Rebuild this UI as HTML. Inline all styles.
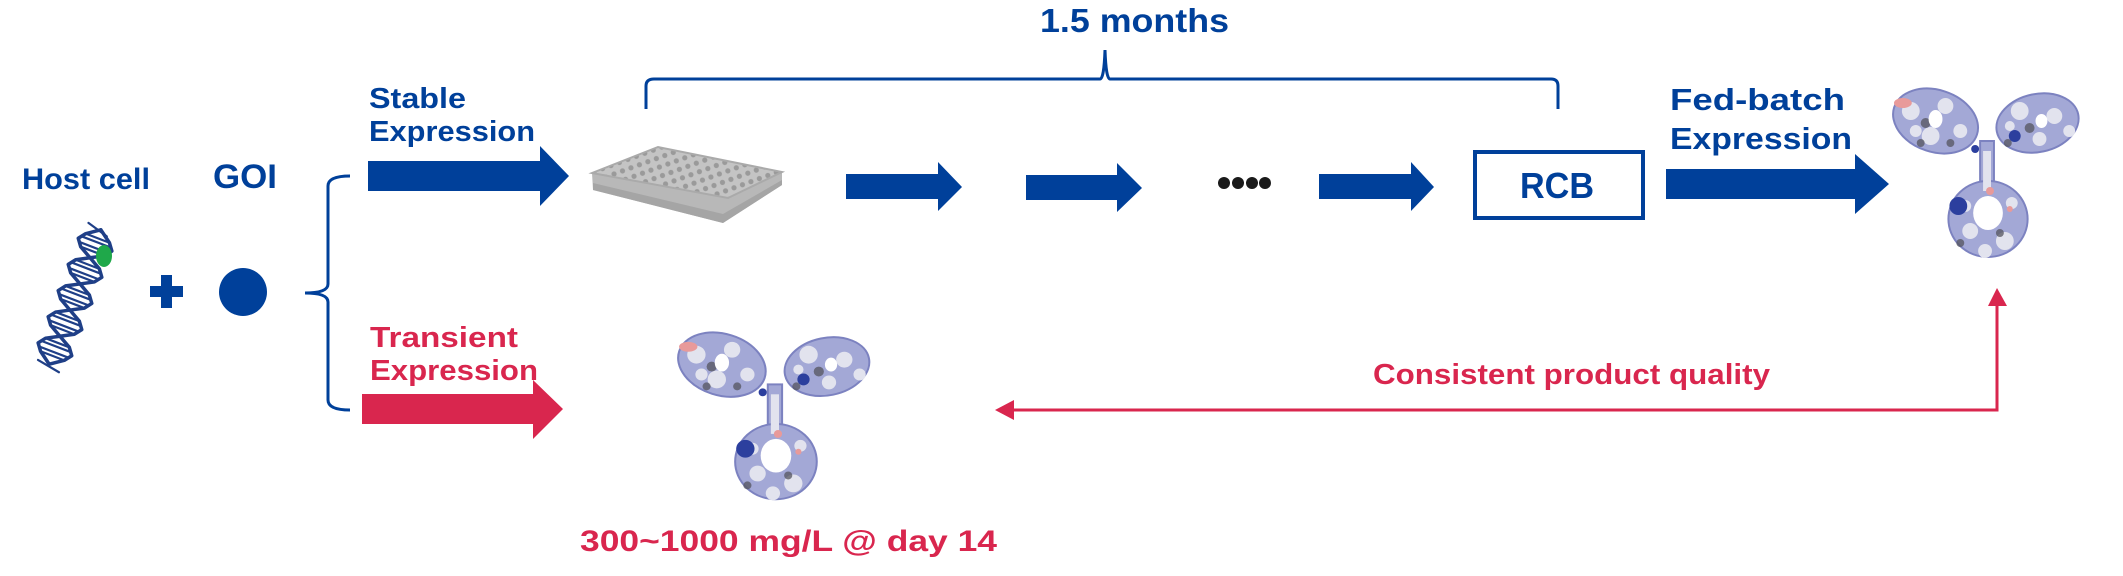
<!DOCTYPE html>
<html><head><meta charset="utf-8"><style>
html,body{margin:0;padding:0;background:#fff;}
svg{display:block;}
text{font-family:"Liberation Sans",sans-serif;font-weight:bold;}
</style></head><body>
<svg width="2123" height="576" viewBox="0 0 2123 576" xmlns="http://www.w3.org/2000/svg">
<defs>
<pattern id="wells" width="9" height="9" patternUnits="userSpaceOnUse" patternTransform="rotate(-20)">
<rect width="9" height="9" fill="#c4c4c4"/><circle cx="4.5" cy="4.5" r="2.6" fill="#9a9a9a"/>
</pattern>
<g id="ab">
 <g fill="#a3a8d6" stroke="#7c82c0" stroke-width="2">
  <ellipse cx="45" cy="40" rx="44" ry="31" transform="rotate(18 45 40)"/>
  <ellipse cx="148" cy="42" rx="42" ry="29" transform="rotate(-12 148 42)"/>
  <rect x="90" y="60" width="14" height="55"/>
  <ellipse cx="98" cy="138" rx="40" ry="38"/>
 </g>
 <g fill="#e2e3ee">
  <circle cx="20" cy="30" r="9"/><circle cx="55" cy="25" r="8"/><circle cx="40" cy="55" r="9"/><circle cx="70" cy="50" r="7"/><circle cx="25" cy="50" r="6"/>
  <circle cx="130" cy="30" r="9"/><circle cx="165" cy="35" r="8"/><circle cx="150" cy="58" r="7"/><circle cx="180" cy="50" r="6"/><circle cx="120" cy="45" r="5"/>
  <circle cx="80" cy="150" r="8"/><circle cx="115" cy="160" r="9"/><circle cx="95" cy="170" r="7"/><circle cx="75" cy="125" r="6"/><circle cx="122" cy="122" r="6"/>
  <rect x="93" y="70" width="8" height="40"/>
 </g>
 <g fill="#55555f" opacity="0.75">
  <circle cx="35" cy="42" r="5"/><circle cx="60" cy="62" r="4"/><circle cx="140" cy="47" r="5"/><circle cx="118" cy="62" r="4"/><circle cx="110" cy="152" r="4"/><circle cx="70" cy="162" r="4"/><circle cx="30" cy="62" r="4"/>
 </g>
 <g fill="#2c3f9e">
  <circle cx="125" cy="55" r="6"/><circle cx="68" cy="125" r="9"/><circle cx="85" cy="68" r="4"/>
 </g>
 <g fill="#e89a9a"><ellipse cx="12" cy="22" rx="9" ry="5"/><circle cx="100" cy="110" r="4"/><circle cx="120" cy="128" r="3"/></g>
 <ellipse cx="98" cy="132" rx="15" ry="17" fill="#fff"/>
 <ellipse cx="45" cy="38" rx="7" ry="9" fill="#fff"/>
 <ellipse cx="152" cy="40" rx="6" ry="7" fill="#fff"/>
</g>
</defs>

<text x="22" y="189" font-size="30" fill="#00409a" textLength="128" lengthAdjust="spacingAndGlyphs">Host cell</text>
<text x="213" y="188" font-size="34" fill="#00409a" textLength="64" lengthAdjust="spacingAndGlyphs">GOI</text>

<g transform="translate(75,297) rotate(21)" stroke="#1f3f87" stroke-width="3.5" fill="none" stroke-linejoin="round" stroke-linecap="round">
 <polyline points="0,-72 12.7,-63 18,-56 12.7,-49 0,-42 -12.7,-35 -18,-28 -12.7,-21 0,-14 12.7,-7 18,0 12.7,7 0,14 -12.7,21 -18,28 -12.7,35 0,42 12.7,49 18,56 12.7,63 0,72"/>
 <polyline points="0,-72 -12.7,-63 -18,-56 -12.7,-49 0,-42 12.7,-35 18,-28 12.7,-21 0,-14 -12.7,-7 -18,0 -12.7,7 0,14 12.7,21 18,28 12.7,35 0,42 -12.7,49 -18,56 -12.7,63 0,72"/>
 <g stroke-width="2.2">
  <line x1="-12" y1="-63" x2="12" y2="-63"/><line x1="-16" y1="-59" x2="16" y2="-59"/><line x1="-16" y1="-53" x2="16" y2="-53"/><line x1="-12" y1="-49" x2="12" y2="-49"/>
  <line x1="-12" y1="-35" x2="12" y2="-35"/><line x1="-16" y1="-31" x2="16" y2="-31"/><line x1="-16" y1="-25" x2="16" y2="-25"/><line x1="-12" y1="-21" x2="12" y2="-21"/>
  <line x1="-12" y1="-7" x2="12" y2="-7"/><line x1="-16" y1="-3" x2="16" y2="-3"/><line x1="-16" y1="3" x2="16" y2="3"/><line x1="-12" y1="7" x2="12" y2="7"/>
  <line x1="-12" y1="21" x2="12" y2="21"/><line x1="-16" y1="25" x2="16" y2="25"/><line x1="-16" y1="31" x2="16" y2="31"/><line x1="-12" y1="35" x2="12" y2="35"/>
  <line x1="-12" y1="49" x2="12" y2="49"/><line x1="-16" y1="53" x2="16" y2="53"/><line x1="-16" y1="59" x2="16" y2="59"/><line x1="-12" y1="63" x2="12" y2="63"/>
  <line x1="-14" y1="-74" x2="8" y2="-68"/><line x1="-12" y1="72" x2="12" y2="76"/>
 </g>
</g>
<ellipse cx="104" cy="256" rx="8" ry="11" fill="#1fa84a"/>

<rect x="150" y="286" width="33" height="11" fill="#00409a"/>
<rect x="161" y="275" width="11" height="33" fill="#00409a"/>
<circle cx="243" cy="292" r="24" fill="#00409a"/>

<path d="M350,176 Q328,176 328,186 L328,284 Q328,293 305,293 Q328,293 328,302 L328,400 Q328,410 350,410" fill="none" stroke="#00409a" stroke-width="3"/>

<text x="369" y="108" font-size="29" fill="#00409a" textLength="97" lengthAdjust="spacingAndGlyphs">Stable</text>
<text x="369" y="141" font-size="29" fill="#00409a" textLength="166" lengthAdjust="spacingAndGlyphs">Expression</text>
<polygon points="368,161 540,161 540,146 569,176 540,206 540,191 368,191" fill="#00409a"/>

<text x="370" y="347" font-size="29" fill="#d9264e" textLength="148" lengthAdjust="spacingAndGlyphs">Transient</text>
<text x="370" y="380" font-size="29" fill="#d9264e" textLength="168" lengthAdjust="spacingAndGlyphs">Expression</text>
<polygon points="362,394 533,394 533,380 563,409 533,439 533,424 362,424" fill="#d9264e"/>

<polygon points="592,173 593,190 723,223 782,185 782,172 728,198" fill="#b8b8b8"/>
<polygon points="593,183 723,214 782,180 782,185 723,223 593,190" fill="#a5a5a5"/>
<polygon points="592,173 658,147 782,172 728,198" fill="url(#wells)" stroke="#aaa" stroke-width="2"/>

<path d="M646,109 L646,86 Q646,79 654,79 L1100,79 Q1104,79 1105,50 Q1106,79 1110,79 L1551,79 Q1558,79 1558,86 L1558,109" fill="none" stroke="#00409a" stroke-width="3"/>
<text x="1040" y="32" font-size="33" fill="#00409a" textLength="189" lengthAdjust="spacingAndGlyphs">1.5 months</text>

<polygon points="846,174 938,174 938,162 962,187 938,211 938,199 846,199" fill="#00409a"/>
<polygon points="1026,175 1117,175 1117,163 1142,188 1117,212 1117,200 1026,200" fill="#00409a"/>
<g fill="#1a1a1a"><circle cx="1224" cy="183" r="6"/><circle cx="1238" cy="183" r="6"/><circle cx="1252" cy="183" r="6"/><circle cx="1265" cy="183" r="6"/></g>
<polygon points="1319,174 1411,174 1411,162 1434,187 1411,211 1411,199 1319,199" fill="#00409a"/>

<rect x="1475" y="152" width="168" height="66" fill="none" stroke="#00409a" stroke-width="4"/>
<text x="1520" y="198" font-size="36" fill="#00409a" textLength="74" lengthAdjust="spacingAndGlyphs">RCB</text>

<text x="1670" y="110" font-size="31" fill="#00409a" textLength="175" lengthAdjust="spacingAndGlyphs">Fed-batch</text>
<text x="1670" y="149" font-size="31" fill="#00409a" textLength="182" lengthAdjust="spacingAndGlyphs">Expression</text>
<polygon points="1666,169 1855,169 1855,154 1889,184 1855,214 1855,199 1666,199" fill="#00409a"/>

<use href="#ab" transform="translate(1891,81) scale(0.99,1)"/>
<use href="#ab" transform="translate(676,325) scale(1.02,0.99)"/>

<path d="M1014,410 L1997,410 L1997,306" fill="none" stroke="#d9264e" stroke-width="3"/>
<polygon points="995,410 1014,400 1014,420" fill="#d9264e"/>
<polygon points="1997,288 1988,306 2007,306" fill="#d9264e"/>
<text x="1373" y="384" font-size="29" fill="#d9264e" textLength="397" lengthAdjust="spacingAndGlyphs">Consistent product quality</text>

<text x="580" y="551" font-size="30" fill="#d9264e" textLength="417" lengthAdjust="spacingAndGlyphs">300~1000 mg/L @ day 14</text>
</svg>
</body></html>
